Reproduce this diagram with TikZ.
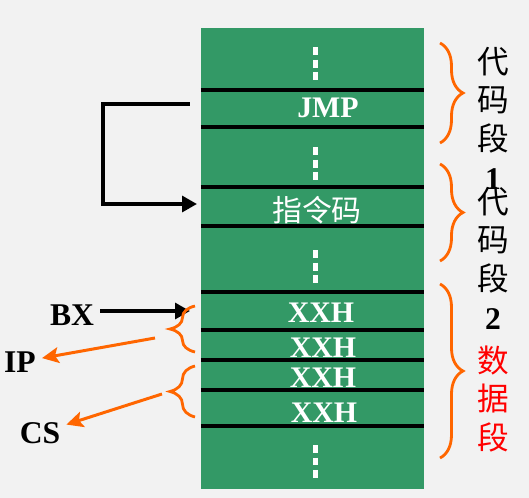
\documentclass[tikz,border=0pt]{standalone}
\usepackage{fontspec}
\setmainfont{Liberation Serif}
\newfontfamily\cjk{Noto Sans CJK SC}
\usetikzlibrary{arrows.meta, decorations.pathreplacing}
\definecolor{memgreen}{HTML}{339966}
\definecolor{pagebg}{HTML}{F2F2F2}
\definecolor{braceorange}{HTML}{FF6600}
\definecolor{segred}{HTML}{FF0000}

\begin{document}
\begin{tikzpicture}[
    x=0.02cm, y=-0.02cm,
    rowline/.style={black, line width=2pt},
    vdots/.style={white, line width=0.1cm, dash pattern=on 0.16cm off 0.09cm},
    cell/.style={text=white, font=\fontsize{17pt}{17pt}\selectfont\bfseries, inner sep=0pt},
    cellcn/.style={text=white, font=\fontsize{17pt}{17pt}\selectfont\cjk, inner sep=0pt},
    reg/.style={font=\fontsize{18pt}{18pt}\selectfont\bfseries},
    segcol/.style={align=center, inner sep=0pt,
      font=\fontsize{18pt}{22pt}\selectfont\cjk},
    blkarr/.style={black, line width=2pt, -{Triangle[length=8.5pt, width=9pt]}},
    oarr/.style={braceorange, line width=1.7pt, -{Stealth[length=9.5pt, width=9pt, inset=2pt]}},
    rbrace/.style={braceorange, line width=1.6pt,
      decorate, decoration={brace, amplitude=0.46cm}},
    lbrace/.style={braceorange, line width=1.6pt,
      decorate, decoration={brace, amplitude=0.5cm}},
  ]
  % page and memory column
  \fill[pagebg] (0,0) rectangle (529,498);
  \useasboundingbox (0,0) rectangle (529,498);
  \fill[memgreen] (201,28) coordinate (memtop) rectangle (424,489) coordinate (membot);

  \foreach \y in {90,127,187,226,292,330,360,390,426}
    \draw[rowline] (201,\y) -- (424,\y);
  \foreach \y in {47,147,250,445}
    \draw[vdots] (316,\y) -- ++(0,33);

  % cell contents
  \node[cell]   (jmp)  at (328,108) {JMP};
  \node[cellcn] (op)   at (317,210) {指令码};
  \node[cell]   (xxha) at (321,313) {XXH};
  \node[cell]   (xxhb) at (323,348) {XXH};
  \node[cell]   (xxhc) at (323,378) {XXH};
  \node[cell]   (xxhd) at (324,413) {XXH};

  % segment labels
  \draw[rbrace] (440,43) -- (440,143);
  \draw[rbrace] (440,164) -- (440,261);
  \draw[rbrace] (440,284) -- (440,458);
  \node[segcol] (segcode1) at (493,118) {代\\码\\段\\\rmfamily\bfseries 1};
  \node[segcol] (segcode2) at (493,258) {代\\码\\段\\\rmfamily\bfseries 2};
  \node[segcol, text=segred] (segdata) at (493,399) {数\\据\\段};

  % jump back to the opcode
  \coordinate (jsrc) at (190,104);
  \coordinate (jdst) at (197,204);
  \draw[blkarr] (jsrc) -- ++(-87,0) |- (jdst);

  % registers
  \node[reg] (bx) at (72,315) {BX};
  \node[reg] (ip) at (20,362) {IP};
  \node[reg] (cs) at (40,433) {CS};
  \coordinate (bxdst) at (190,311);
  \draw[blkarr] (bxdst -| bx.east) -- (bxdst);

  \draw[lbrace] (195,352) -- (195,306);
  \draw[lbrace] (195,417) -- (195,366);
  \coordinate (ipsrc) at (155,338);
  \coordinate (cssrc) at (162,394);
  \draw[oarr] (ipsrc) -- (ip);
  \draw[oarr] (cssrc) -- (cs);
\end{tikzpicture}
\end{document}
